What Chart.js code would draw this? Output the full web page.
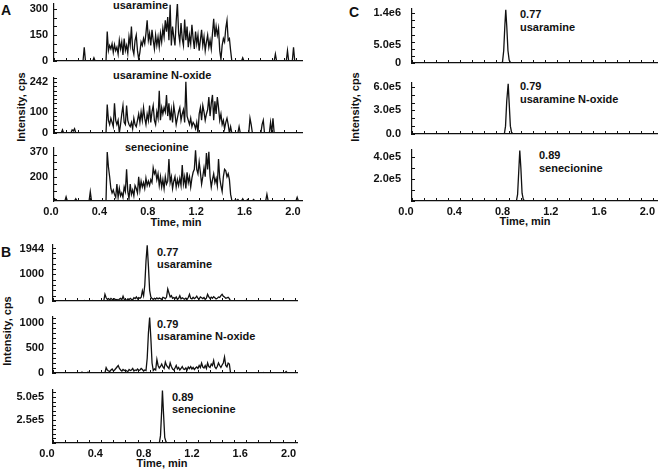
<!DOCTYPE html>
<html>
<head>
<meta charset="utf-8">
<script src="https://cdn.jsdelivr.net/npm/chart.js@4.4.0/dist/chart.umd.min.js"></script>
<style>
    body { margin: 0; width: 658px; height: 470px; position: relative; overflow: hidden; background: #fff;
           font-family: "Liberation Sans", Arial, sans-serif; font-weight: bold; color: #111; }
    canvas { position: absolute; }
    .txt { position: absolute; font-size: 11px; line-height: 1; white-space: nowrap; }
    .letter { position: absolute; font-size: 14px; line-height: 1; }
    .vtitle { position: absolute; font-size: 11px; line-height: 1; white-space: nowrap;
              transform: translate(-50%, -50%) rotate(-90deg); }
    .xtitle { position: absolute; font-size: 11px; line-height: 1; white-space: nowrap; transform: translateX(-50%); }
</style>
</head>
<body>
<div class="letter" style="left:1px;top:3px">A</div>
<div class="letter" style="left:1px;top:245px">B</div>
<div class="letter" style="left:349px;top:5px">C</div>

<div class="vtitle" style="left:21px;top:107px">Intensity, cps</div>
<div class="vtitle" style="left:7px;top:331px">Intensity, cps</div>
<div class="vtitle" style="left:355px;top:107px">Intensity, cps</div>

<div class="xtitle" style="left:176px;top:217px">Time, min</div>
<div class="xtitle" style="left:162px;top:458px">Time, min</div>
<div class="xtitle" style="left:525px;top:216px">Time, min</div>

<div class="txt" style="left:113px;top:0px">usaramine</div>
<div class="txt" style="left:113px;top:70px">usaramine N-oxide</div>
<div class="txt" style="left:125px;top:142px">senecionine</div>

<div class="txt" style="left:157px;top:247px">0.77</div>
<div class="txt" style="left:157px;top:259px">usaramine</div>
<div class="txt" style="left:157px;top:319px">0.79</div>
<div class="txt" style="left:157px;top:331px">usaramine N-oxide</div>
<div class="txt" style="left:172px;top:392px">0.89</div>
<div class="txt" style="left:172px;top:404px">senecionine</div>

<div class="txt" style="left:520px;top:9px">0.77</div>
<div class="txt" style="left:520px;top:22px">usaramine</div>
<div class="txt" style="left:520px;top:81px">0.79</div>
<div class="txt" style="left:520px;top:94px">usaramine N-oxide</div>
<div class="txt" style="left:539px;top:150px">0.89</div>
<div class="txt" style="left:539px;top:163px">senecionine</div>

<script>
// time axis
const timeStep = 0.01;
const xTickValues = [0, 0.4, 0.8, 1.2, 1.6, 2.0];

// Panel A: noisy traces, one value per 0.01 min starting at 0.00
const aUsaramine = [
    0, 0, 0, 0, 0, 0, 0, 0, 0, 0,
    0, 0, 0, 0, 0, 0, 0, 0, 0, 0,
    0, 0, 0, 0, 0, 80, 0, 0, 0, 0,
    0, 0, 0, 18, 0, 0, 0, 0, 0, 0,
    0, 0, 0, 0, 170, 60, 90, 70, 100, 50,
    95, 60, 80, 40, 120, 70, 110, 35, 130, 60,
    90, 45, 140, 90, 200, 70, 40, 120, 150, 60,
    10, 50, 110, 90, 130, 100, 160, 235, 120, 160,
    90, 180, 120, 70, 150, 90, 140, 80, 160, 110,
    190, 140, 235, 170, 255, 120, 325, 90, 200, 140,
    90, 230, 335, 160, 110, 220, 130, 90, 240, 120,
    200, 80, 150, 100, 210, 130, 70, 170, 100, 150,
    60, 120, 180, 90, 140, 60, 110, 150, 80, 120,
    70, 160, 245, 140, 200, 150, 190, 60, 10, 90,
    130, 110, 190, 235, 120, 130, 60, 0, 0, 0,
    0, 0, 0, 0, 0, 0, 18, 0, 0, 0,
    0, 0, 0, 0, 0, 0, 0, 0, 0, 0,
    0, 0, 0, 0, 0, 0, 0, 0, 0, 0,
    0, 0, 0, 40, 0, 0, 0, 0, 0, 0,
    0, 0, 0, 60, 0, 0, 0, 0, 80, 0,
    0, 0, 0, 0, 0,
];
const aNoxide = [
    0, 0, 0, 0, 0, 0, 0, 15, 0, 0,
    0, 0, 0, 0, 0, 15, 10, 20, 0, 0,
    0, 0, 0, 0, 0, 0, 0, 0, 0, 0,
    0, 0, 0, 0, 0, 0, 0, 0, 0, 0,
    0, 0, 0, 0, 135, 60, 40, 70, 50, 30,
    140, 60, 40, 60, 0, 40, 90, 130, 50, 40,
    130, 60, 40, 30, 50, 20, 70, 40, 30, 60,
    90, 50, 100, 60, 120, 70, 40, 90, 60, 130,
    50, 100, 130, 60, 40, 100, 70, 200, 60, 120,
    90, 120, 100, 180, 80, 140, 60, 110, 50, 130,
    90, 40, 70, 100, 120, 60, 90, 110, 50, 242,
    80, 60, 40, 70, 30, 50, 40, 20, 50, 0,
    90, 120, 60, 130, 100, 60, 90, 110, 170, 80,
    140, 180, 60, 150, 90, 170, 120, 60, 90, 40,
    60, 20, 50, 70, 40, 0, 30, 0, 0, 0,
    0, 0, 0, 30, 0, 0, 0, 0, 0, 0,
    0, 0, 70, 40, 0, 0, 0, 0, 0, 0,
    0, 0, 40, 60, 0, 0, 0, 0, 0, 50,
    0, 70, 0, 0, 0, 0, 0, 0, 0, 0,
    0, 0, 0, 0, 0, 0, 0, 0, 0, 0,
    0, 0, 0, 0, 0,
];
const aSenecionine = [
    36, 45, 36, 36, 36, 36, 36, 36, 36, 36,
    64, 36, 36, 36, 36, 36, 36, 36, 50, 36,
    36, 36, 36, 36, 36, 36, 36, 36, 36, 36,
    98, 36, 36, 36, 36, 36, 36, 36, 36, 36,
    36, 36, 36, 36, 368, 266, 200, 120, 90, 110,
    80, 60, 150, 60, 120, 70, 90, 60, 130, 100,
    250, 100, 50, 150, 80, 110, 70, 140, 120, 90,
    200, 110, 170, 130, 160, 120, 190, 140, 170, 140,
    180, 160, 260, 220, 240, 180, 220, 140, 200, 130,
    180, 120, 200, 150, 170, 320, 160, 200, 120, 170,
    200, 130, 180, 140, 190, 140, 280, 150, 200, 120,
    230, 160, 200, 130, 190, 230, 250, 380, 250, 220,
    300, 230, 150, 200, 260, 200, 360, 250, 370, 200,
    130, 180, 220, 160, 190, 140, 320, 190, 140, 100,
    200, 250, 240, 200, 220, 180, 80, 40, 36, 36,
    45, 36, 45, 36, 36, 36, 50, 36, 36, 36,
    45, 36, 36, 36, 36, 45, 36, 36, 36, 36,
    36, 36, 36, 36, 36, 36, 80, 36, 36, 36,
    36, 36, 36, 36, 36, 36, 36, 36, 36, 36,
    36, 36, 36, 36, 36, 36, 36, 36, 36, 36,
    36, 60, 36, 36, 36,
];

// Panel B: first two traces per 0.01 min, senecionine as a single peak
const bUsaramine = [
    0, 0, 0, 0, 0, 0, 0, 0, 0, 0,
    0, 0, 0, 0, 0, 0, 0, 0, 0, 0,
    0, 0, 0, 0, 0, 0, 20, 0, 0, 0,
    0, 0, 0, 20, 0, 0, 0, 0, 0, 0,
    0, 0, 0, 250, 120, 60, 90, 40, 100, 60,
    50, 80, 40, 60, 30, 70, 100, 50, 180, 60,
    40, 30, 80, 50, 100, 60, 40, 120, 90, 150,
    80, 130, 100, 140, 380, 200, 600, 1500, 2090, 1300,
    400, 150, 90, 60, 100, 70, 120, 80, 110, 90,
    60, 140, 120, 80, 150, 450, 300, 150, 200, 100,
    130, 90, 150, 60, 100, 200, 80, 120, 90, 70,
    110, 60, 130, 250, 100, 80, 140, 90, 120, 180,
    100, 70, 150, 120, 90, 130, 60, 110, 250, 150,
    90, 140, 100, 160, 120, 80, 100, 150, 130, 200,
    250, 180, 150, 100, 120, 140, 90, 0, 0, 0,
    0, 0, 0, 0, 0, 0, 0, 0, 0, 20,
    0, 0, 0, 0, 0, 0, 0, 0, 0, 0,
    0, 0, 0, 0, 0, 0, 0, 10, 0, 0,
    0, 0, 0, 0, 0, 0, 0, 0, 0, 0,
    20, 0, 0, 0, 0, 0, 0, 0, 0, 0,
    0, 0,
];
const bNoxide = [
    0, 0, 0, 0, 0, 0, 0, 0, 0, 0,
    0, 0, 0, 0, 0, 0, 0, 0, 0, 0,
    0, 0, 0, 0, 20, 0, 0, 0, 0, 20,
    0, 0, 0, 0, 0, 0, 0, 0, 0, 0,
    0, 0, 0, 0, 107, 60, 40, 30, 60, 80,
    40, 60, 90, 120, 150, 90, 60, 40, 70, 50,
    60, 40, 30, 70, 50, 60, 90, 40, 60, 50,
    80, 50, 60, 90, 70, 40, 60, 50, 300, 800,
    1110, 700, 200, 50, 80, 60, 270, 150, 100, 130,
    180, 120, 90, 220, 150, 120, 90, 200, 130, 80,
    60, 100, 150, 80, 110, 60, 90, 130, 80, 70,
    100, 60, 120, 90, 130, 80, 110, 70, 100, 120,
    90, 150, 110, 200, 120, 100, 150, 90, 200, 130,
    110, 180, 150, 250, 120, 90, 130, 200, 150, 110,
    160, 200, 320, 150, 120, 200, 180, 0, 0, 0,
    0, 0, 0, 0, 0, 0, 0, 0, 0, 0,
    0, 0, 0, 0, 0, 0, 0, 0, 0, 0,
    0, 0, 0, 0, 10, 0, 0, 0, 0, 0,
    0, 0, 0, 0, 0, 0, 0, 0, 0, 0,
    0, 0, 0, 30, 0, 0, 0, 0, 0, 0,
    0, 0,
];
const bSenecionineTimes = [0, 0.88, 0.89, 0.90, 0.906, 0.915, 0.925, 0.935, 0.945, 2.02];
const bSenecionineValues = [0, 0, 80000, 360000, 570000, 320000, 60000, 15000, 0, 0];

// Panel C: single peaks
const cUsaramineTimes = [0, 0.74, 0.75, 0.76, 0.77, 0.777, 0.785, 0.795, 0.805, 0.815, 0.83, 2.03];
const cUsaramineValues = [0, 0, 30000, 350000, 1100000, 1500000, 1050000, 350000, 80000, 20000, 0, 0];
const cNoxideTimes = [0, 0.765, 0.775, 0.785, 0.797, 0.805, 0.815, 0.825, 0.84, 2.03];
const cNoxideValues = [0, 0, 100000, 420000, 640000, 400000, 100000, 20000, 0, 0];
const cSenecionineTimes = [0, 0.865, 0.875, 0.885, 0.893, 0.902, 0.912, 0.922, 0.935, 2.03];
const cSenecionineValues = [0, 0, 60000, 280000, 455000, 300000, 70000, 15000, 0, 0];

// y tick values and their printed labels
const aUsaramineTicks = [0, 150, 300];
const aUsaramineLabels = ['0', '150', '300'];
const aNoxideTicks = [0, 100, 242];
const aNoxideLabels = ['0', '100', '242'];
const aSenecionineTicks = [200, 370];
const aSenecionineLabels = ['200', '370'];
const bUsaramineTicks = [0, 1000, 1944];
const bUsaramineLabels = ['0', '1000', '1944'];
const bNoxideTicks = [0, 500, 1000];
const bNoxideLabels = ['0', '500', '1000'];
const bSenecionineTicks = [250000, 500000];
const bSenecionineLabels = ['2.5e5', '5.0e5'];
const cUsaramineTicks = [0, 500000, 1400000];
const cUsaramineLabels = ['0', '5.0e5', '1.4e6'];
const cNoxideTicks = [0, 300000, 600000];
const cNoxideLabels = ['0.0', '3.0e5', '6.0e5'];
const cSenecionineTicks = [200000, 400000];
const cSenecionineLabels = ['2.0e5', '4.0e5'];

const FONT = { family: 'Liberation Sans', size: 11, weight: 'bold' };
const INK = '#111';

function stepSeries(values) {
    return values.map((v, i) => ({ x: i * timeStep, y: v }));
}

function pairSeries(times, values) {
    return times.map((t, i) => ({ x: t, y: values[i] }));
}

// small inward ticks along both axes
const minorTicks = {
    id: 'minorTicks',
    afterDraw(chart, args, opts) {
        const { ctx, chartArea: a, scales } = chart;
        const x = scales.x, y = scales.y;
        ctx.save();
        ctx.strokeStyle = INK;
        ctx.lineWidth = 1;
        ctx.beginPath();
        for (let v = 0; v <= x.max + 1e-9; v += opts.xStep) {
            const px = Math.round(x.getPixelForValue(v)) + 0.5;
            ctx.moveTo(px, a.bottom);
            ctx.lineTo(px, a.bottom - 3);
        }
        for (let v = Math.ceil(y.min / opts.yStep) * opts.yStep; v <= y.max; v += opts.yStep) {
            const py = Math.round(y.getPixelForValue(v)) + 0.5;
            ctx.moveTo(a.left, py);
            ctx.lineTo(a.left + 3, py);
        }
        ctx.stroke();
        ctx.restore();
    },
};

function makePlot(p) {
    const padL = 60, padT = 22, padR = 14;
    const padB = p.showX ? 26 : 22;
    const w = p.right - p.left + padL + padR;
    const h = p.bottom - p.top + padT + padB;
    const canvas = document.createElement('canvas');
    canvas.width = w;
    canvas.height = h;
    canvas.style.left = (p.left - padL) + 'px';
    canvas.style.top = (p.top - padT) + 'px';
    document.body.appendChild(canvas);

    new Chart(canvas, {
        type: 'line',
        data: {
            datasets: [{
                data: p.data,
                borderColor: INK,
                borderWidth: 1.3,
                pointRadius: 0,
                tension: 0,
                fill: false,
            }],
        },
        options: {
            responsive: false,
            animation: false,
            devicePixelRatio: 1,
            layout: { padding: { left: 0, top: padT, right: padR, bottom: 0 } },
            plugins: {
                legend: { display: false },
                tooltip: { enabled: false },
                minorTicks: { xStep: 0.1, yStep: p.yMinor },
            },
            scales: {
                x: {
                    type: 'linear',
                    min: 0,
                    max: p.xMax,
                    grid: { display: false, drawTicks: false },
                    border: { display: true, color: INK, width: 1.2 },
                    ticks: {
                        display: p.showX,
                        font: FONT,
                        color: INK,
                        padding: 4,
                        labelOffset: p.labelOffset,
                        maxRotation: 0,
                        callback: (v) => Number(v).toFixed(1),
                    },
                    afterBuildTicks: (s) => { s.ticks = xTickValues.map((v) => ({ value: v })); },
                    afterFit: (s) => { s.height = padB; },
                },
                y: {
                    type: 'linear',
                    min: p.yMin,
                    max: p.yMax,
                    grid: { display: false, drawTicks: false },
                    border: { display: true, color: INK, width: 1.2 },
                    ticks: {
                        font: FONT,
                        color: INK,
                        padding: p.tickPad,
                        callback: (v) => p.yLabels[p.yTicks.indexOf(v)],
                    },
                    afterBuildTicks: (s) => { s.ticks = p.yTicks.map((v) => ({ value: v })); },
                    afterFit: (s) => { s.width = padL; },
                },
            },
        },
        plugins: [minorTicks],
    });
}

const panelA = { left: 54, right: 302, xMax: 2.05, tickPad: 6, labelOffset: -3 };
const panelB = { left: 53, right: 297, xMax: 2.02, tickPad: 9, labelOffset: -6 };
const panelC = { left: 412, right: 657, xMax: 2.03, tickPad: 11, labelOffset: -6 };

const plots = [
    { ...panelA, top: 4, bottom: 61, yMin: 0, yMax: 330, yMinor: 50, yTicks: aUsaramineTicks, yLabels: aUsaramineLabels, data: stepSeries(aUsaramine), showX: false },
    { ...panelA, top: 78, bottom: 133, yMin: 0, yMax: 260, yMinor: 20, yTicks: aNoxideTicks, yLabels: aNoxideLabels, data: stepSeries(aNoxide), showX: false },
    { ...panelA, top: 148, bottom: 201, yMin: 35, yMax: 395, yMinor: 50, yTicks: aSenecionineTicks, yLabels: aSenecionineLabels, data: stepSeries(aSenecionine), showX: true },
    { ...panelB, top: 245, bottom: 301, yMin: 0, yMax: 2100, yMinor: 200, yTicks: bUsaramineTicks, yLabels: bUsaramineLabels, data: stepSeries(bUsaramine), showX: false },
    { ...panelB, top: 317, bottom: 373, yMin: 0, yMax: 1120, yMinor: 100, yTicks: bNoxideTicks, yLabels: bNoxideLabels, data: stepSeries(bNoxide), showX: false },
    { ...panelB, top: 390, bottom: 443, yMin: 0, yMax: 576000, yMinor: 50000, yTicks: bSenecionineTicks, yLabels: bSenecionineLabels, data: pairSeries(bSenecionineTimes, bSenecionineValues), showX: true },
    { ...panelC, top: 9, bottom: 63, yMin: 0, yMax: 1520000, yMinor: 200000, yTicks: cUsaramineTicks, yLabels: cUsaramineLabels, data: pairSeries(cUsaramineTimes, cUsaramineValues), showX: false },
    { ...panelC, top: 83, bottom: 134, yMin: 0, yMax: 650000, yMinor: 100000, yTicks: cNoxideTicks, yLabels: cNoxideLabels, data: pairSeries(cNoxideTimes, cNoxideValues), showX: false },
    { ...panelC, top: 150, bottom: 201, yMin: 0, yMax: 460000, yMinor: 100000, yTicks: cSenecionineTicks, yLabels: cSenecionineLabels, data: pairSeries(cSenecionineTimes, cSenecionineValues), showX: true },
];

plots.forEach(makePlot);
</script>
</body>
</html>
